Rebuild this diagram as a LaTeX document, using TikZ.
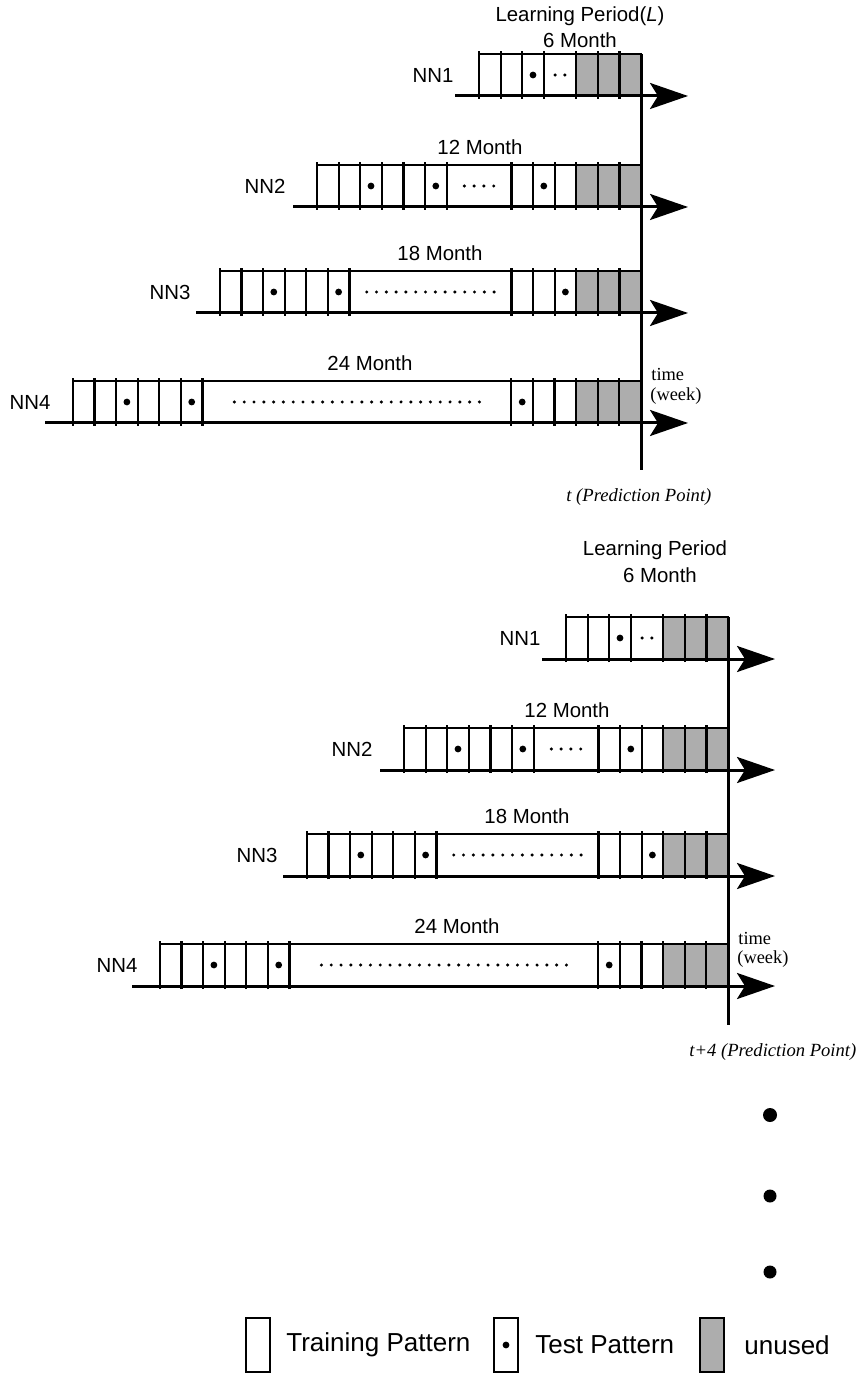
\documentclass[tikz,border=0pt]{standalone}
\usepackage{fontspec}
\setmainfont{Liberation Serif}
\setsansfont{Liberation Sans}
\usetikzlibrary{arrows.meta}
\tikzset{
  lbl/.style={font=\sffamily\fontsize{10.2}{12}\selectfont, inner sep=0pt},
  leg/.style={font=\sffamily\fontsize{13}{15}\selectfont, inner sep=0pt, anchor=west},
  ser/.style={font=\rmfamily\fontsize{9.2}{11}\selectfont, inner sep=0pt},
  seri/.style={font=\rmfamily\itshape\fontsize{9.3}{11}\selectfont, inner sep=0pt},
  cellln/.style={line width=1.1pt},
  timeaxis/.style={line width=1.5pt, -{Stealth[length=19pt,width=13pt,inset=4pt]}},
  shadefill/.style={fill=black!32},
  predline/.style={line width=1.5pt},
}
\newcommand\nnrow[3]{%
  \xdef\cx{#1}%
  \foreach \ct/\cw/\cn in {#3}{%
    \pgfmathsetmacro\cxe{\cx+\cw*21.6}%
    \pgfmathsetmacro\cxm{(\cx+\cxe)/2}%
    \ifcase\ct\relax
    \or
      \fill ({\cxm},{#2-21}) circle[radius=3.4];
    \or
      \fill[shadefill] ({\cx},{#2}) rectangle ({\cxe},{#2-42});
    \or
      \foreach \k in {1,...,\cn}{\fill ({\cxm+(\k-(\cn+1)/2)*9.8},{#2-21}) circle[radius=1.7];}
    \fi
    \draw[cellln] ({\cx},{#2+3}) -- ({\cx},{#2-45});
    \xdef\cx{\cxe}%
  }%
  \draw[cellln] ({#1},{#2-42}) -- ({\cx},{#2-42}) -- ({\cx},{#2});
}
\newcommand\fourrows{%
  \nnrow{479}{96}{0/1/0,0/1/0,1/1/0,3/1.5/2,2/1/0,2/1/0,2/1/0}
  \nnrow{317}{207}{0/1/0,0/1/0,1/1/0,0/1/0,0/1/0,1/1/0,3/3/4,0/1/0,1/1/0,0/1/0,2/1/0,2/1/0,2/1/0}
  \nnrow{219.8}{313}{0/1/0,0/1/0,1/1/0,0/1/0,0/1/0,1/1/0,3/7.5/14,0/1/0,0/1/0,1/1/0,2/1/0,2/1/0,2/1/0}
  \nnrow{72.9}{423}{0/1/0,0/1/0,1/1/0,0/1/0,0/1/0,1/1/0,3/14.3/26,1/1/0,0/1/0,0/1/0,2/1/0,2/1/0,2/1/0}
  \node[lbl] (nn1) at (433,75) {NN1};
  \node[lbl] (nn2) at (265,186) {NN2};
  \node[lbl] (nn3) at (170,292) {NN3};
  \node[lbl] (nn4) at (30,402) {NN4};
  \node[lbl] (m12) at (480,147) {12 Month};
  \node[lbl] (m18) at (440,253) {18 Month};
  \node[lbl] (m24) at (370,363) {24 Month};
  \coordinate (s1) at (455,96);   \coordinate (e1) at (688,96);
  \coordinate (s2) at (293,207);  \coordinate (e2) at (688,207);
  \coordinate (s3) at (196,313);  \coordinate (e3) at (688,313);
  \coordinate (s4) at (45,423);   \coordinate (e4) at (688,423);
  \draw[timeaxis] (s1) -- (e1);
  \draw[timeaxis] (s2) -- (e2);
  \draw[timeaxis] (s3) -- (e3);
  \draw[timeaxis] (s4) -- (e4);
  \node[ser, anchor=west] (tm) at (651,375) {time};
  \node[ser, anchor=west] (wk) at (650,396) {(week)};
}
\begin{document}
\begin{tikzpicture}[x=0.5pt,y=-0.5pt]
\fill[white] (0,0) rectangle (858,1384);
\useasboundingbox (0,0) rectangle (858,1384);

% ---------- upper panel ----------
\node[lbl] (lp1) at (580,16) {Learning Period(\textit{L})};
\node[lbl] (lm1) at (580,40) {6 Month};
\begin{scope}
  \fourrows
\end{scope}
\coordinate (pa1) at (641,54);
\coordinate (pb1) at (641,470);
\draw[predline] (pa1) -- (pb1);
\node[seri, anchor=west] (pp1) at (566,497) {t (Prediction Point)};

% ---------- lower panel ----------
\node[lbl] (lp2) at (655,550) {Learning Period};
\node[lbl] (lm2) at (660,575) {6 Month};
\begin{scope}[shift={(87,563)}]
  \fourrows
\end{scope}
\coordinate (pa2) at (728,617);
\coordinate (pb2) at (728,1025);
\draw[predline] (pa2) -- (pb2);
\node[seri, anchor=west] (pp2) at (689,1052) {t+4 (Prediction Point)};

% continuation dots
\fill (770,1115) circle[radius=7];
\fill (770,1196) circle[radius=6.5];
\fill (770,1272) circle[radius=6.5];

% ---------- legend ----------
\draw[cellln] (246,1318) rectangle (270,1372);
\node[leg] (lg1) at (286,1345) {Training Pattern};
\draw[cellln] (494,1318) rectangle (518,1372);
\fill (506,1345) circle[radius=3.4];
\node[leg] (lg2) at (535,1345) {Test Pattern};
\fill[shadefill] (700,1318) rectangle (724,1372);
\draw[cellln] (700,1318) rectangle (724,1372);
\node[leg] (lg3) at (744,1345) {unused};
\end{tikzpicture}
\end{document}
